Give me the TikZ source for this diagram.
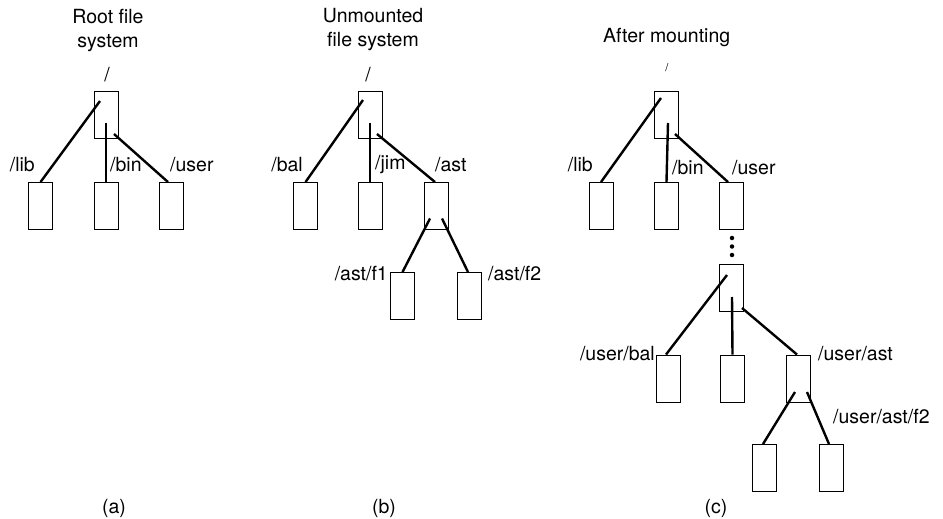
\documentclass[tikz,border=0pt]{standalone}
\usepackage{fontspec}
\setmainfont{TeX Gyre Heros}
\usetikzlibrary{calc}
\tikzset{
  filebox/.style={draw, line width=0.9pt, minimum width=24pt, minimum height=47pt, inner sep=0pt},
  link/.style={line width=2.4pt},
  lbl/.style={inner sep=0pt, font=\fontsize{19.5}{23}\selectfont},
  ttl/.style={inner sep=0pt, align=center, font=\fontsize{19.5}{24}\selectfont},
  dotnode/.style={circle, fill, inner sep=0pt, minimum size=4.5pt}
}
\begin{document}
\begin{tikzpicture}[x=1pt,y=-1pt]
\useasboundingbox (0,0) rectangle (943,519);
% ---------- (a)
\node[ttl] (ta) at (108,30) {Root file\\system};
\node[lbl] (sa) at (107,75) {/};
\node[filebox] (ra) at (106,114.5) {};
\node[filebox] (a1) at (40.5,206) {};
\node[filebox] (a2) at (106,206) {};
\node[filebox] (a3) at (171,206) {};
\draw[link] ($(ra)+(-6,-13.5)$) -- (a1.north);
\draw[link] ($(ra)+(0,8.5)$) -- (a2.north);
\draw[link] ($(ra)+(8,19.5)$) -- ($(a3.north)+(-3,0)$);
\node[lbl, anchor=east] (la1) at (35,165) {/lib};
\node[lbl, anchor=west] (la2) at (110,165) {/bin};
\node[lbl, anchor=west] (la3) at (170,165) {/user};
\node[lbl] (capa) at (114,508) {(a)};
% ---------- (b)
\node[ttl] (tb) at (373,30) {Unmounted\\file system};
\node[lbl] (sb) at (368,75) {/};
\node[filebox] (rb) at (370,114.5) {};
\node[filebox] (b1) at (305.5,206) {};
\node[filebox] (b2) at (370,206) {};
\node[filebox] (b3) at (436.5,206) {};
\node[filebox] (b4) at (402.5,296) {};
\node[filebox] (b5) at (469.5,296) {};
\draw[link] ($(rb)+(-7,-14.5)$) -- (b1.north);
\draw[link] ($(rb)+(0,8.5)$) -- (b2.north);
\draw[link] ($(rb)+(7,19.5)$) -- ($(b3.north)+(-1.5,0)$);
\draw[link] ($(b3)+(-6.5,12.5)$) -- (b4.north);
\draw[link] ($(b3)+(5.5,12.5)$) -- ($(b5.north)+(-1.5,0)$);
\node[lbl, anchor=east] (lb1) at (303,165) {/bal};
\node[lbl, anchor=west] (lb2) at (375,165) {/jim};
\node[lbl, anchor=west] (lb3) at (435,165) {/ast};
\node[lbl, anchor=east] (lb4) at (388,274) {/ast/f1};
\node[lbl, anchor=west] (lb5) at (488,274) {/ast/f2};
\node[lbl] (capb) at (384,508) {(b)};
% ---------- (c)
\node[ttl, anchor=west] (tc) at (603,37) {After mounting};
\node[lbl, font=\fontsize{11}{13}\selectfont] (sc) at (667,68) {/};
\node[filebox] (rc) at (666.5,115) {};
\node[filebox] (c1) at (601,206) {};
\node[filebox] (c2) at (666.5,206) {};
\node[filebox] (c3) at (731,206) {};
\draw[link] ($(rc)+(-5.5,-17)$) -- (c1.north);
\draw[link] ($(rc)+(1.5,8)$) -- (c2.north);
\draw[link] ($(rc)+(8.5,19)$) -- ($(c3.north)+(-3,0)$);
\node[lbl, anchor=east] (lc1) at (593,165) {/lib};
\node[lbl, anchor=west] (lc2) at (672,168) {/bin};
\node[lbl, anchor=west] (lc3) at (732,168) {/user};
\node[dotnode] (d1) at (732,238) {};
\node[dotnode] (d2) at (732,246.5) {};
\node[dotnode] (d3) at (732,255) {};
\node[filebox] (m) at (731.5,288) {};
\node[filebox] (m1) at (668,378.5) {};
\node[filebox] (m2) at (732.5,378.5) {};
\node[filebox] (m3) at (798,378.5) {};
\node[filebox] (m4) at (764.5,468) {};
\node[filebox] (m5) at (831.5,468) {};
\draw[link] ($(m)+(-4.5,-13)$) -- ($(m1.north)+(-2,0)$);
\draw[link] ($(m)+(0.5,9)$) -- (m2.north);
\draw[link] ($(m)+(10.5,20)$) -- ($(m3.north)+(-1,0)$);
\draw[link] ($(m3)+(-3,13.5)$) -- ($(m4.north)+(-1.5,0)$);
\draw[link] ($(m3)+(9,13.5)$) -- ($(m5.north)+(-2.5,0)$);
\node[lbl, anchor=east] (lm1) at (655,354) {/user/bal};
\node[lbl, anchor=west] (lm3) at (818,354) {/user/ast};
\node[lbl, anchor=west] (lm5) at (833,417) {/user/ast/f2};
\node[lbl] (capc) at (716,508) {(c)};
\end{tikzpicture}
\end{document}
